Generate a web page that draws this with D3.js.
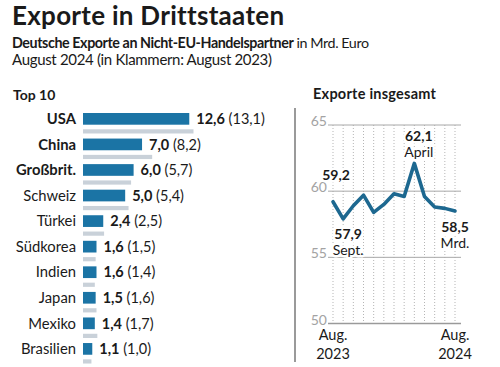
<!DOCTYPE html>
<html><head><meta charset="utf-8">
<script src="https://cdn.jsdelivr.net/npm/d3@7"></script>
<style>
html,body{margin:0;padding:0;background:#fff;}
svg{display:block;font-family:Lato,"Open Sans",sans-serif;}
</style></head>
<body>
<script>
// ---- data ----
const countries = ["USA","China","Großbrit.","Schweiz","Türkei","Südkorea","Indien","Japan","Mexiko","Brasilien"];
const exports2024 = [12.6,7.0,6.0,5.0,2.4,1.6,1.6,1.5,1.4,1.1];
const exports2023 = [13.1,8.2,5.7,5.4,2.5,1.5,1.4,1.6,1.7,1.0];
const months = ["Aug. 2023","Sept.","Okt.","Nov.","Dez.","Jan.","Feb.","März","April","Mai","Juni","Juli","Aug. 2024"];
const totals = [59.2,57.9,58.9,59.7,58.4,59.0,59.8,59.6,62.1,59.6,58.8,58.7,58.5];
const yTicks = [50,55,60,65];

const W=500,H=367;
const fmt = v => d3.format(".1f")(v).replace(".",",");
const svg = d3.select("body").append("svg").attr("width",W).attr("height",H);

function fitSpacing(sel, target){
  const n = sel.node();
  const w = n.getComputedTextLength();
  const chars = sel.text().length;
  sel.attr("letter-spacing", ((target-w)/(chars-1)).toFixed(3));
}

// ---- titles ----
const t = svg.append("text").attr("x",12).attr("y",24.5).attr("font-size",26).attr("font-weight",700).attr("fill","#1a1a1a").text("Exporte in Drittstaaten");
fitSpacing(t,271);
const s1 = svg.append("text").attr("x",12).attr("y",48).attr("font-size",14.3).attr("fill","#1a1a1a");
s1.append("tspan").attr("font-weight",700).text("Deutsche Exporte an Nicht-EU-Handelspartner");
s1.append("tspan").text(" in Mrd. Euro");
fitSpacing(s1,357);
const s2 = svg.append("text").attr("x",12).attr("y",65).attr("font-size",15).attr("fill","#1a1a1a").text("August 2024 (in Klammern: August 2023)");
fitSpacing(s2,260);

// ---- bar chart ----
svg.append("text").attr("x",13).attr("y",100).attr("font-size",14).attr("font-weight",700).attr("fill","#1a1a1a").text("Top 10");

const x = d3.scaleLinear().domain([0,13.1]).range([83,193.5]);
const y = d3.scaleBand().domain(countries).range([113,113+25.56*10]).paddingInner(0).paddingOuter(0);
const barH = 11.7;

const rows = svg.append("g").selectAll("g").data(countries).join("g")
  .attr("transform", d => `translate(0,${y(d)})`);
rows.append("rect").attr("x",x(0)).attr("y",16.3).attr("height",4.2)
  .attr("width",(d,i)=>x(exports2023[i])-x(0)).attr("fill","#c9d1d9");
rows.append("rect").attr("x",x(0)).attr("y",0).attr("height",barH)
  .attr("width",(d,i)=>x(exports2024[i])-x(0)).attr("fill","#1b74a5");
rows.append("text").attr("x",76).attr("y",barH/2+5.2).attr("text-anchor","end")
  .attr("font-size",14.8).attr("font-weight",(d,i)=>i<3?700:400).attr("fill","#1a1a1a").text(d=>d);
const vl = rows.append("text").attr("x",(d,i)=>x(exports2024[i])+7).attr("y",barH/2+5.2)
  .attr("font-size",14.5).attr("fill","#1a1a1a");
vl.append("tspan").attr("font-weight",700).text((d,i)=>fmt(exports2024[i]));
vl.append("tspan").text((d,i)=>" ("+fmt(exports2023[i])+")");

// ---- separator ----
svg.append("line").attr("x1",295).attr("x2",295).attr("y1",108).attr("y2",362).attr("stroke","#9a9a9a").attr("stroke-width",2);

// ---- line chart ----
const st = svg.append("text").attr("x",313).attr("y",99).attr("font-size",14.5).attr("font-weight",700).attr("fill","#1a1a1a").text("Exporte insgesamt");
fitSpacing(st,123);

const lx = d3.scaleLinear().domain([0,months.length-1]).range([333,455]);
const ly = d3.scaleLinear().domain([50,65]).range([323.5,125]);
const g = svg.append("g");

g.selectAll("line.v").data(months).join("line").attr("class","v")
  .attr("x1",(d,i)=>lx(i)).attr("x2",(d,i)=>lx(i)).attr("y1",ly(65)).attr("y2",ly(50))
  .attr("stroke","#b5b5b5").attr("stroke-width",1).attr("stroke-dasharray","1,2");
g.selectAll("line.h").data(yTicks).join("line").attr("class","h")
  .attr("x1",328).attr("x2",461).attr("y1",d=>ly(d)).attr("y2",d=>ly(d))
  .attr("stroke",d=>d===50?"#9a9a9a":"#a8a8a8").attr("stroke-width",d=>d===50?1.5:1);
g.selectAll("text.tick").data(yTicks).join("text").attr("class","tick")
  .attr("x",327).attr("y",d=>ly(d)+1).attr("text-anchor","end")
  .attr("font-size",14).attr("fill","#a3a3a3").text(d=>d);

g.append("path").datum(totals)
  .attr("d", d3.line().x((d,i)=>lx(i)).y(d=>ly(d)).curve(d3.curveLinear))
  .attr("fill","none").attr("stroke","#1d6890").attr("stroke-width",3.6)
  .attr("stroke-linejoin","round").attr("stroke-linecap","round");

// annotations
function ann(i, dx, dy1, dy2, second){
  const tx = g.append("text").attr("text-anchor","middle").attr("font-size",14).attr("fill","#1a1a1a")
    .attr("stroke","#fff").attr("stroke-width",5).attr("paint-order","stroke").attr("stroke-linejoin","round");
  tx.append("tspan").attr("x",lx(i)+dx).attr("y",ly(totals[i])+dy1).attr("font-weight",700).text(fmt(totals[i]));
  if(second) tx.append("tspan").attr("x",lx(i)+dx).attr("y",ly(totals[i])+dy2).text(second);
}
ann(0, 3, -22, 0, null);
ann(1, 5, 20.5, 36, "Sept.");
ann(8, 4.5, -22, -6.5, "April");
ann(12, 0, 20.5, 36.5, "Mrd.");

// x-axis labels
[[0,"Aug.","2023"],[12,"Aug.","2024"]].forEach(([i,a,b])=>{
  const tx = g.append("text").attr("text-anchor","middle").attr("font-size",14.5).attr("fill","#1a1a1a");
  tx.append("tspan").attr("x",lx(i)).attr("y",340).text(a);
  tx.append("tspan").attr("x",lx(i)).attr("y",358.5).text(b);
});
</script>
</body></html>
